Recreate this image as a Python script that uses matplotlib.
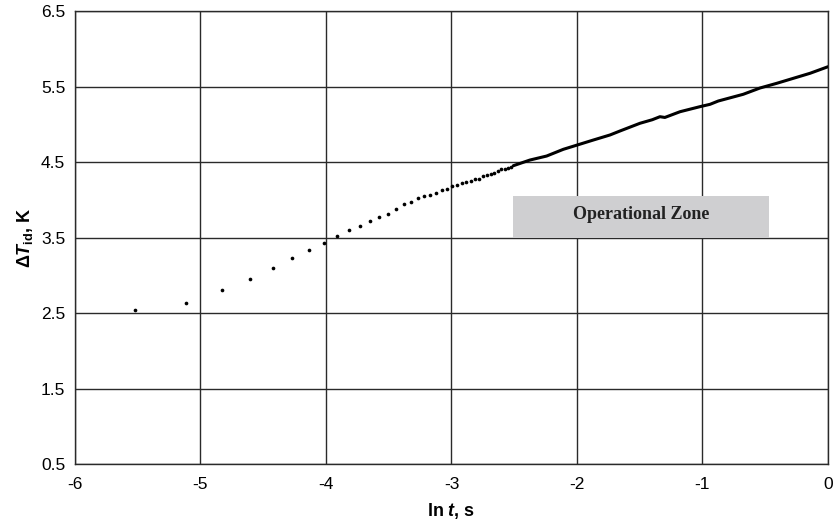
import numpy as np
import matplotlib.pyplot as plt
from matplotlib.patches import Rectangle

# early samples: time (ms) and ideal temperature rise (K)
t_ms = [4, 6, 8, 10, 12, 14, 16, 18, 20, 22, 24, 26, 28, 30, 32, 34, 36, 38,
        40, 42, 44, 46, 48, 50, 52, 54, 56, 58, 60, 62, 64, 66, 68, 70, 72,
        74, 76, 78, 80]
dT = [2.54, 2.637, 2.80, 2.955, 3.096, 3.228, 3.334, 3.43, 3.524, 3.599,
      3.656, 3.714, 3.776, 3.815, 3.873, 3.94, 3.974, 4.019, 4.046, 4.067,
      4.093, 4.125, 4.138, 4.182, 4.199, 4.222, 4.231, 4.252, 4.27, 4.28,
      4.31, 4.33, 4.34, 4.358, 4.381, 4.403, 4.41, 4.425, 4.44]

# dense part of the record, given directly on the ln t scale
ln_t_tail = [-2.507, -2.375, -2.242, -2.109, -1.998, -1.87, -1.737, -1.657,
             -1.498, -1.40, -1.339, -1.30, -1.179, -1.02, -0.94, -0.874,
             -0.675, -0.542, -0.409, -0.143, 0.0]
dT_tail = [4.451, 4.526, 4.579, 4.668, 4.725, 4.791, 4.858, 4.911, 5.013,
           5.06, 5.10, 5.09, 5.166, 5.233, 5.264, 5.308, 5.397, 5.48, 5.542,
           5.675, 5.762]

x_ticks = [-6, -5, -4, -3, -2, -1, 0]
y_ticks = [0.5, 1.5, 2.5, 3.5, 4.5, 5.5, 6.5]
zone_x = (-2.51, -0.47)
zone_y = (3.49, 4.05)

plt.rcParams['font.family'] = 'Liberation Sans'
plt.rcParams['axes.unicode_minus'] = False
plt.rcParams['mathtext.fontset'] = 'custom'
plt.rcParams['mathtext.rm'] = 'Liberation Sans:bold'
plt.rcParams['mathtext.it'] = 'Liberation Sans:bold:italic'
plt.rcParams['mathtext.bf'] = 'Liberation Sans:bold'

fig = plt.figure(figsize=(8.35, 5.24), dpi=100)
ax = fig.add_axes([0.0898, 0.1145, 0.9018, 0.8645])

ln_t = np.log(np.array(t_ms) / 1000.0)
ax.scatter(ln_t, dT, s=7, color='black', zorder=4, linewidths=0)
ax.plot(ln_t_tail, dT_tail, color='black', lw=2.2, zorder=4,
        solid_capstyle='round')

ax.set_xlim(-6, 0)
ax.set_ylim(0.5, 6.5)
ax.set_xticks(x_ticks)
ax.set_yticks(y_ticks)
ax.set_yticklabels([f'{v:.1f}' for v in y_ticks])
ax.tick_params(length=0, labelsize=12.5)
ax.tick_params(axis='x', pad=9)
ax.tick_params(axis='y', pad=7)
ax.grid(True, color='#2a2a2a', lw=1.0)
ax.set_axisbelow(True)
for s in ax.spines.values():
    s.set_color('#2a2a2a')
    s.set_linewidth(1.0)

# operational zone marker sits over the grid
ax.add_patch(Rectangle((zone_x[0], zone_y[0]), zone_x[1] - zone_x[0],
                       zone_y[1] - zone_y[0], facecolor='#cfcfd1',
                       edgecolor='none', zorder=3))
ax.text(sum(zone_x) / 2, sum(zone_y) / 2 + 0.03, 'Operational Zone',
        family='Liberation Serif', weight='bold', fontsize=13,
        ha='center', va='center', color='#222222', zorder=5)

ax.set_xlabel(r'ln $t$, s', fontsize=13, weight='bold', labelpad=7)
ax.set_ylabel(r'$\Delta T_{\rm id}$, K', fontsize=13, weight='bold',
              labelpad=4)

fig.savefig('out.png', dpi=100)
